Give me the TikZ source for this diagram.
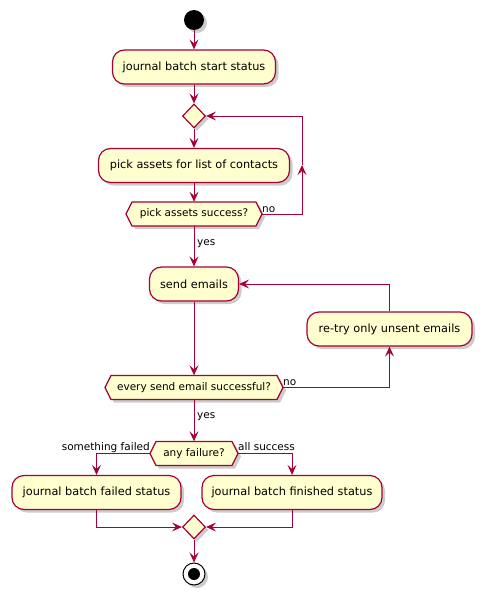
\documentclass[tikz,border=0pt]{standalone}
\usepackage{fontspec}
\setmainfont{DejaVu Sans}
\usetikzlibrary{arrows.meta,shapes.geometric,shadows}
\definecolor{pbord}{HTML}{A80036}
\definecolor{pfill}{HTML}{FEFECE}
\tikzset{
  shad/.style={drop shadow={shadow xshift=3pt,shadow yshift=-3pt,opacity=0.2,fill=black}},
  act/.style={draw=pbord,fill=pfill,line width=1.2pt,rounded corners=12pt,minimum height=34pt,inner sep=0pt,font=\fontsize{11.3}{13}\selectfont,shad},
  hext/.style={minimum height=24pt,inner sep=0pt,font=\fontsize{10.5}{12}\selectfont},
  lbl/.style={inner sep=0pt,font=\fontsize{10.5}{12}\selectfont},
  dia/.style={diamond,draw=pbord,fill=pfill,line width=1.2pt,minimum width=23pt,minimum height=24pt,inner sep=0pt,shad},
  arr/.style={draw=pbord,line width=1pt,-{Stealth[length=10pt,width=9pt,inset=4pt]}},
  ln/.style={draw=pbord,line width=1pt}
}
\newcommand\hexnode[5]{%
  \fill[black,opacity=0.2] ({#2-#4-3},{#3+3}) -- ({#2-#4+3},{#3-9}) -- ({#2+#4+3},{#3-9}) -- ({#2+#4+9},{#3+3}) -- ({#2+#4+3},{#3+15}) -- ({#2-#4+3},{#3+15}) -- cycle;
  \filldraw[draw=pbord,fill=pfill,line width=1.2pt,line join=round] ({#2-#4-6},#3) -- ({#2-#4},{#3-12}) -- ({#2+#4},{#3-12}) -- ({#2+#4+6},#3) -- ({#2+#4},{#3+12}) -- ({#2-#4},{#3+12}) -- cycle;
  \node[hext] (#1) at (#2,#3) {#5};
  \coordinate (#1-w) at ({#2-#4-6},#3);
  \coordinate (#1-e) at ({#2+#4+6},#3);
}
\begin{document}
\begin{tikzpicture}[x=1pt,y=-1pt]
\useasboundingbox[fill=white] (0,0) rectangle (487,597);
% nodes
\node[circle,fill=black,minimum size=20pt,inner sep=0pt,shad] (start) at (194,20) {};
\node[act,minimum width=163pt] (a1) at (194,67) {journal batch start status};
\node[dia] (d1) at (194,116) {};
\node[act,minimum width=191pt] (a2) at (194,165.5) {pick assets for list of contacts};
\hexnode{h1}{194}{214}{62}{pick assets success?}
\node[act,minimum width=89pt] (send) at (194,284) {send emails};
\node[act,minimum width=165pt] (retry) at (389.5,329) {re-try only unsent emails};
\hexnode{h2}{194}{387.5}{83}{every send email successful?}
\hexnode{h3}{194}{453.5}{38}{any failure?}
\node[act,minimum width=169pt] (failed) at (96.5,492.5) {journal batch failed status};
\node[act,minimum width=180pt] (finished) at (292,492.5) {journal batch finished status};
\node[dia] (merge) at (194,527) {};
\node[circle,draw=black,fill=white,line width=1pt,minimum size=22pt,inner sep=0pt,shad] (end) at (194,574) {};
\fill[black] (end.center) circle (6pt);
\coordinate (loopA) at (302,165);
% connectors
\draw[arr] (start) -- (a1);
\draw[arr] (a1) -- (d1);
\draw[arr] (d1) -- (a2);
\draw[arr] (a2) -- (h1.north);
\draw[arr] (h1-e) -| (loopA);
\draw[arr] (loopA) |- (d1.east);
\node[lbl,anchor=base west] at ([yshift=2pt]h1-e) {no};
\draw[arr] (h1.south) -- (send.north);
\node[lbl,anchor=west] at ([xshift=3pt,yshift=-17pt]h1.south) {yes};
\draw[arr] (send.south) -- (h2.north);
\draw[arr] (h2-e) -| (retry.south);
\node[lbl,anchor=base west] at ([yshift=2pt]h2-e) {no};
\draw[arr] (retry.north) |- (send.east);
\draw[arr] (h2.south) -- (h3.north);
\node[lbl,anchor=west] at ([xshift=3pt,yshift=-17pt]h2.south) {yes};
\draw[arr] (h3-w) -| (failed.north);
\draw[arr] (h3-e) -| (finished.north);
\node[lbl,anchor=base east] at ([yshift=3pt]h3-w) {something failed};
\node[lbl,anchor=base west] at ([yshift=3pt]h3-e) {all success};
\draw[arr] (failed.south) |- (merge.west);
\draw[arr] (finished.south) |- (merge.east);
\draw[arr] (merge) -- (end);
\end{tikzpicture}
\end{document}
